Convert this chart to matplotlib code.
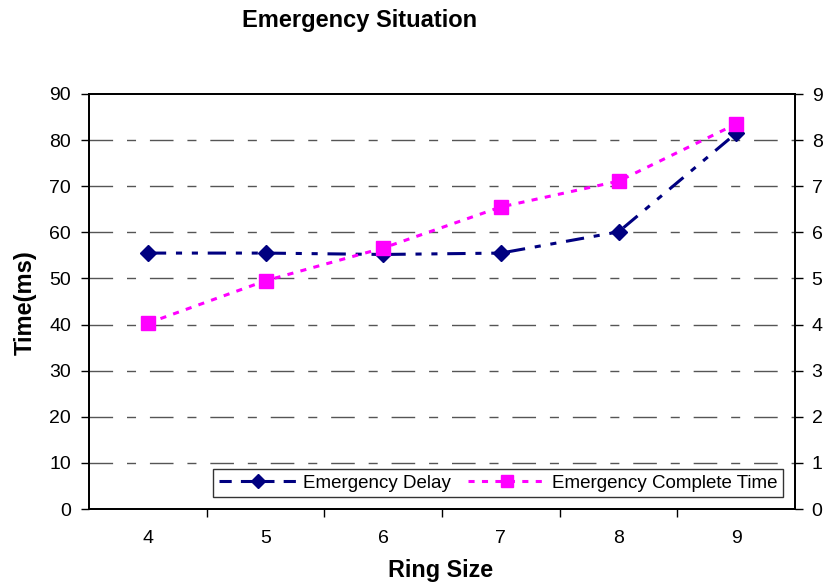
import matplotlib
matplotlib.use("Agg")
import matplotlib.pyplot as plt
from matplotlib.lines import Line2D

plt.rcParams['font.family'] = ['Liberation Sans', 'DejaVu Sans']

ring_sizes = [4, 5, 6, 7, 8, 9]
emergency_delay = [55.5, 55.5, 55.2, 55.5, 60.1, 81.5]
emergency_complete = [40.3, 49.5, 56.6, 65.5, 71.1, 83.5]
left_ticks = [0, 10, 20, 30, 40, 50, 60, 70, 80, 90]
right_ticks = [0, 1, 2, 3, 4, 5, 6, 7, 8, 9]

fig = plt.figure(figsize=(8.27, 5.85), dpi=100)
ax = fig.add_axes([89/827, 1 - 509/585, (795 - 89)/827, (509 - 94)/585])

x = list(range(len(ring_sizes)))

# horizontal grid lines with long-short dash pattern
for t in left_ticks[1:-1]:
    ax.axhline(t, color='#555555', lw=1.0, dashes=(17, 10, 6.5, 10), zorder=1)

ax.plot(x, emergency_delay, color='#000080', lw=2.2,
        dashes=(6, 3.2, 2, 3.2, 2, 3.2),
        marker='D', markersize=8, markeredgecolor='#000080',
        markerfacecolor='#000080', zorder=3)
ax.plot(x, emergency_complete, color='#FF00FF', lw=2.2,
        dashes=(2, 2.4), marker='s', markersize=9.5,
        markeredgecolor='#FF00FF', markerfacecolor='#FF00FF', zorder=4)

ax.set_xlim(-0.5, len(ring_sizes) - 0.5)
ax.set_ylim(0, 90)
ax.set_yticks(left_ticks)
ax.set_xticks(x)
ax.set_xticklabels([str(r) for r in ring_sizes])
ax.set_xticks([i + 0.5 for i in range(len(ring_sizes) - 1)], minor=True)
ax.tick_params(axis='x', which='major', length=0, pad=15, labelsize=14)
ax.tick_params(axis='x', which='minor', length=6, width=1, direction='out')
ax.tick_params(axis='y', length=6, width=1, direction='out', labelsize=14, pad=7)

for s in ax.spines.values():
    s.set_linewidth(1.3)
    s.set_color('black')

ax2 = ax.twinx()
ax2.set_ylim(0, 9)
ax2.set_yticks(right_ticks)
ax2.tick_params(axis='y', length=6, width=1, direction='out', labelsize=14, pad=6)
for s in ax2.spines.values():
    s.set_linewidth(1.3)

fig.text(25/827, 1 - 303/585, 'Time(ms)', ha='center', va='center',
         rotation=90, fontsize=17, fontweight='bold')
fig.text(441/827, 1 - 570/585, 'Ring Size', ha='center', va='center',
         fontsize=16.8, fontweight='bold')
fig.text(360/827, 1 - 20/585, 'Emergency Situation', ha='center', va='center',
         fontsize=17, fontweight='bold')

h1 = Line2D([], [], color='#000080', lw=2.2, dashes=(4, 3),
            marker='D', markersize=7.5, markerfacecolor='#000080', markeredgecolor='#000080')
h2 = Line2D([], [], color='#FF00FF', lw=2.2, dashes=(2, 2.4),
            marker='s', markersize=9, markerfacecolor='#FF00FF', markeredgecolor='#FF00FF')
leg = ax2.legend([h1, h2], ['Emergency Delay', 'Emergency Complete Time'],
                 loc='center', bbox_to_anchor=(498/827, 1 - 483/585),
                 bbox_transform=fig.transFigure, ncol=2, frameon=True,
                 fancybox=False, edgecolor='black', fontsize=13.5,
                 handlelength=4.2, handletextpad=0.3, columnspacing=0.9,
                 borderpad=0.3)
leg.get_frame().set_linewidth(1.0)

fig.savefig('out.png', dpi=100)
